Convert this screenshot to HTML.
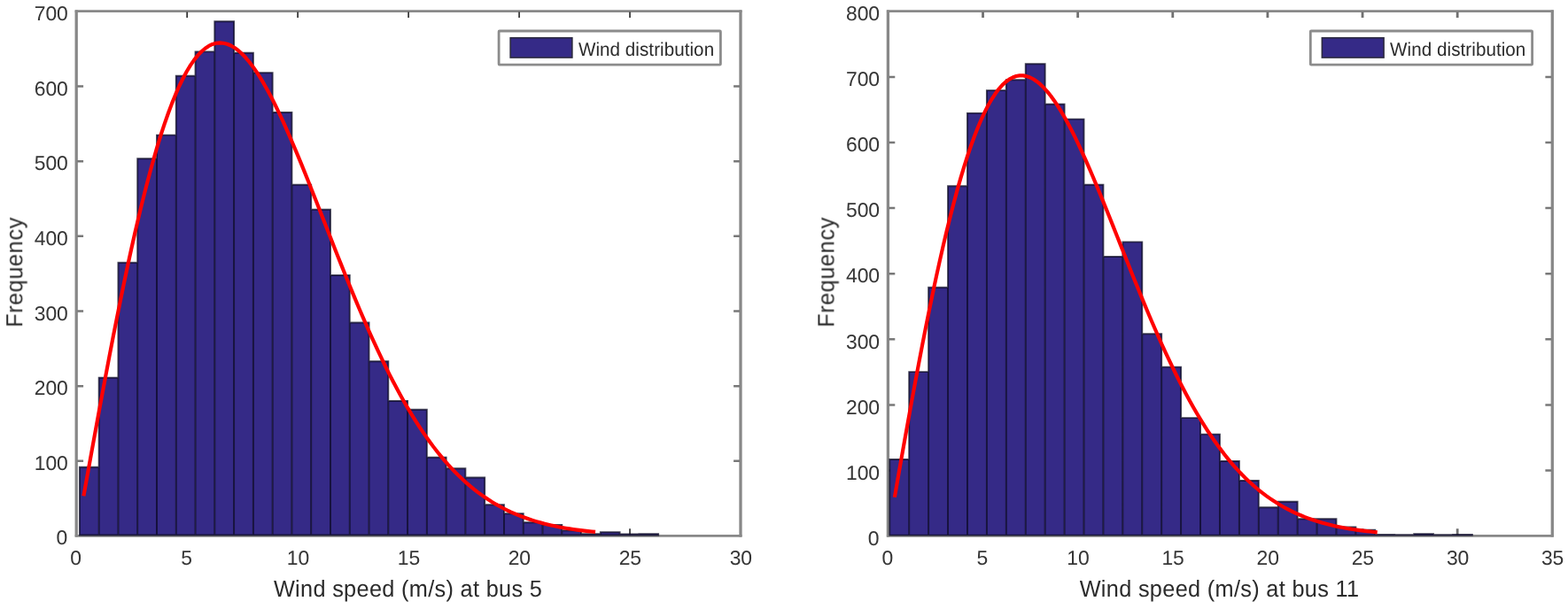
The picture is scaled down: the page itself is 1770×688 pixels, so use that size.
<!DOCTYPE html>
<html lang="en">
<head>
<meta charset="utf-8">
<title>Wind speed distribution</title>
<style>
html,body{margin:0;padding:0;background:#ffffff;}
body{width:1770px;height:688px;overflow:hidden;}
svg text{font-family:"Liberation Sans",Arial,Helvetica,sans-serif;fill:#2b2b2b;text-rendering:geometricPrecision;}
.t{font-size:22.9px;letter-spacing:-0.15px;fill:#363636;}
.g{font-size:20.6px;letter-spacing:0.06px;}
.l{font-size:25.3px;letter-spacing:0.32px;}
.l.yl{letter-spacing:0.58px;}
</style>
</head>
<body>
<svg width="1770" height="688" viewBox="0 0 1770 688" style="display:block">
<defs><filter id="soft" x="0" y="0" width="1770" height="688" filterUnits="userSpaceOnUse" color-interpolation-filters="sRGB"><feGaussianBlur stdDeviation="0.45"/></filter></defs>
<rect x="0" y="0" width="1770" height="688" fill="#ffffff"/>
<g filter="url(#soft)">
<g><path d="M84.7 12.6H837.5M84.7 605.3H837.5" fill="none" stroke="#888888" stroke-width="2.8"/>
<path d="M86.2 11.4V606.5M836 11.4V606.5" fill="none" stroke="#888888" stroke-width="3.3"/>
<path d="M211.17 604.3V597.2M211.17 13.6V20" stroke="#262626" stroke-width="1.6" fill="none"/>
<path d="M336.13 604.3V597.2M336.13 13.6V20" stroke="#262626" stroke-width="1.6" fill="none"/>
<path d="M461.1 604.3V597.2M461.1 13.6V20" stroke="#262626" stroke-width="1.6" fill="none"/>
<path d="M586.07 604.3V597.2M586.07 13.6V20" stroke="#262626" stroke-width="1.6" fill="none"/>
<path d="M711.03 604.3V597.2M711.03 13.6V20" stroke="#262626" stroke-width="1.6" fill="none"/>
<path d="M87.2 520.83H94.1M835 520.83H828.1" stroke="#787878" stroke-width="2.5" fill="none"/>
<path d="M87.2 436.16H94.1M835 436.16H828.1" stroke="#787878" stroke-width="2.5" fill="none"/>
<path d="M87.2 351.49H94.1M835 351.49H828.1" stroke="#787878" stroke-width="2.5" fill="none"/>
<path d="M87.2 266.81H94.1M835 266.81H828.1" stroke="#787878" stroke-width="2.5" fill="none"/>
<path d="M87.2 182.14H94.1M835 182.14H828.1" stroke="#787878" stroke-width="2.5" fill="none"/>
<path d="M87.2 97.47H94.1M835 97.47H828.1" stroke="#787878" stroke-width="2.5" fill="none"/>
<rect x="89.9" y="527.8" width="21.77" height="76.75" fill="#352a87"/>
<rect x="111.68" y="426.7" width="21.77" height="177.85" fill="#352a87"/>
<rect x="133.45" y="296.7" width="21.77" height="307.85" fill="#352a87"/>
<rect x="155.22" y="179.2" width="21.77" height="425.35" fill="#352a87"/>
<rect x="177" y="152.6" width="21.77" height="451.95" fill="#352a87"/>
<rect x="198.78" y="85.8" width="21.77" height="518.75" fill="#352a87"/>
<rect x="220.55" y="58.4" width="21.77" height="546.15" fill="#352a87"/>
<rect x="242.32" y="24.2" width="21.77" height="580.35" fill="#352a87"/>
<rect x="264.1" y="59.8" width="21.77" height="544.75" fill="#352a87"/>
<rect x="285.88" y="82.2" width="21.77" height="522.35" fill="#352a87"/>
<rect x="307.65" y="127" width="21.77" height="477.55" fill="#352a87"/>
<rect x="329.42" y="208.8" width="21.77" height="395.75" fill="#352a87"/>
<rect x="351.2" y="236.8" width="21.77" height="367.75" fill="#352a87"/>
<rect x="372.98" y="311" width="21.77" height="293.55" fill="#352a87"/>
<rect x="394.75" y="364.5" width="21.77" height="240.05" fill="#352a87"/>
<rect x="416.52" y="408.2" width="21.77" height="196.35" fill="#352a87"/>
<rect x="438.3" y="453" width="21.77" height="151.55" fill="#352a87"/>
<rect x="460.07" y="462.8" width="21.77" height="141.75" fill="#352a87"/>
<rect x="481.85" y="516.7" width="21.77" height="87.85" fill="#352a87"/>
<rect x="503.62" y="529.3" width="21.77" height="75.25" fill="#352a87"/>
<rect x="525.4" y="539.5" width="21.77" height="65.05" fill="#352a87"/>
<rect x="547.17" y="570.3" width="21.77" height="34.25" fill="#352a87"/>
<rect x="568.95" y="580.2" width="21.77" height="24.35" fill="#352a87"/>
<rect x="590.73" y="590.2" width="21.77" height="14.35" fill="#352a87"/>
<rect x="612.5" y="592.9" width="21.77" height="11.65" fill="#352a87"/>
<rect x="634.27" y="599.3" width="21.77" height="5.25" fill="#352a87"/>
<rect x="656.05" y="603.2" width="21.77" height="1.35" fill="#352a87"/>
<rect x="677.82" y="601.2" width="21.77" height="3.35" fill="#352a87"/>
<rect x="699.6" y="603.4" width="21.77" height="1.15" fill="#352a87"/>
<rect x="721.37" y="603.2" width="21.77" height="1.35" fill="#352a87"/>
<path d="M89.9 604.55V527.8H111.68V426.7H133.45V296.7H155.22V179.2H177V152.6H198.78V85.8H220.55V58.4H242.32V24.2H264.1V59.8H285.88V82.2H307.65V127H329.42V208.8H351.2V236.8H372.98V311H394.75V364.5H416.52V408.2H438.3V453H460.07V462.8H481.85V516.7H503.62V529.3H525.4V539.5H547.17V570.3H568.95V580.2H590.73V590.2H612.5V592.9H634.27V599.3H656.05V603.2H677.82V601.2H699.6V603.4H721.37V603.2H743.15V604.55ZM111.68 604.55V527.8M133.45 604.55V426.7M155.22 604.55V296.7M177 604.55V179.2M198.78 604.55V152.6M220.55 604.55V85.8M242.32 604.55V58.4M264.1 604.55V59.8M285.88 604.55V82.2M307.65 604.55V127M329.42 604.55V208.8M351.2 604.55V236.8M372.98 604.55V311M394.75 604.55V364.5M416.52 604.55V408.2M438.3 604.55V453M460.07 604.55V462.8M481.85 604.55V516.7M503.62 604.55V529.3M525.4 604.55V539.5M547.17 604.55V570.3M568.95 604.55V580.2M590.73 604.55V590.2M612.5 604.55V592.9M634.27 604.55V599.3M656.05 604.55V603.2M677.82 604.55V603.2M699.6 604.55V603.4M721.37 604.55V603.4" fill="none" stroke="#0a0820" stroke-opacity="0.74" stroke-width="1.9" stroke-linejoin="miter"/>
<polyline points="94.4,560.32 98.55,537.32 102.71,514.37 106.86,491.54 111.02,468.87 115.18,446.43 119.33,424.26 123.49,402.42 127.64,380.94 131.8,359.87 135.96,339.25 140.11,319.13 144.27,299.53 148.42,280.5 152.58,262.07 156.73,244.27 160.89,227.13 165.05,210.68 169.2,194.94 173.36,179.94 177.51,165.69 181.67,152.23 185.82,139.55 189.98,127.69 194.14,116.64 198.29,106.41 202.45,97.02 206.6,88.47 210.76,80.76 214.91,73.89 219.07,67.85 223.23,62.65 227.38,58.27 231.54,54.71 235.69,51.95 239.85,49.99 244,48.8 248.16,48.38 252.32,48.7 256.47,49.74 260.63,51.49 264.78,53.92 268.94,57.01 273.09,60.73 277.25,65.06 281.41,69.97 285.56,75.44 289.72,81.43 293.87,87.92 298.03,94.89 302.18,102.29 306.34,110.1 310.5,118.29 314.65,126.84 318.81,135.71 322.96,144.88 327.12,154.31 331.27,163.98 335.43,173.85 339.59,183.91 343.74,194.13 347.9,204.47 352.05,214.91 356.21,225.43 360.36,236.01 364.52,246.62 368.68,257.23 372.83,267.84 376.99,278.41 381.14,288.92 385.3,299.37 389.45,309.73 393.61,319.99 397.77,330.13 401.92,340.13 406.08,349.99 410.23,359.69 414.39,369.21 418.54,378.56 422.7,387.72 426.86,396.69 431.01,405.45 435.17,414 439.32,422.33 443.48,430.45 447.63,438.34 451.79,446 455.95,453.43 460.1,460.63 464.26,467.61 468.41,474.35 472.57,480.86 476.72,487.14 480.88,493.19 485.04,499.01 489.19,504.62 493.35,510 497.5,515.16 501.66,520.12 505.81,524.86 509.97,529.39 514.13,533.73 518.28,537.87 522.44,541.82 526.59,545.59 530.75,549.17 534.9,552.58 539.06,555.82 543.22,558.9 547.37,561.82 551.53,564.58 555.68,567.2 559.84,569.68 563.99,572.02 568.15,574.23 572.31,576.32 576.46,578.29 580.62,580.14 584.77,581.88 588.93,583.52 593.08,585.06 597.24,586.5 601.4,587.86 605.55,589.12 609.71,590.31 613.86,591.42 618.02,592.46 622.18,593.43 626.33,594.33 630.49,595.18 634.64,595.96 638.8,596.69 642.95,597.37 647.11,598 651.27,598.59 655.42,599.13 659.58,599.63 663.73,600.1 667.89,600.53 672.04,600.93" fill="none" stroke="#ff0000" stroke-width="4.15" stroke-linejoin="round"/>
<text x="85.5" y="637.9" text-anchor="middle" class="t">0</text>
<text x="210.47" y="637.9" text-anchor="middle" class="t">5</text>
<text x="336.43" y="637.9" text-anchor="middle" class="t">10</text>
<text x="461.4" y="637.9" text-anchor="middle" class="t">15</text>
<text x="586.37" y="637.9" text-anchor="middle" class="t">20</text>
<text x="711.33" y="637.9" text-anchor="middle" class="t">25</text>
<text x="836.3" y="637.9" text-anchor="middle" class="t">30</text>
<text x="76.1" y="615.3" text-anchor="end" class="t">0</text>
<text x="76.6" y="531.03" text-anchor="end" class="t">100</text>
<text x="76.6" y="446.36" text-anchor="end" class="t">200</text>
<text x="76.6" y="361.69" text-anchor="end" class="t">300</text>
<text x="76.6" y="277.01" text-anchor="end" class="t">400</text>
<text x="76.6" y="192.34" text-anchor="end" class="t">500</text>
<text x="76.6" y="107.67" text-anchor="end" class="t">600</text>
<text x="76.6" y="23" text-anchor="end" class="t">700</text>
<text transform="translate(460.5 674.5) scale(1 1.04)" text-anchor="middle" class="l">Wind speed (m/s) at bus 5</text>
<text transform="translate(25.1 307.5) rotate(-90) scale(1 1.04)" text-anchor="middle" class="l yl">Frequency</text>
<rect x="563.1" y="35" width="250.3" height="38.1" rx="0.8" fill="#ffffff" stroke="#8c8c8c" stroke-width="2.8"/>
<rect x="576.15" y="42.75" width="69.7" height="22.3" fill="#352a87" stroke="#2c2a40" stroke-width="1.6"/>
<text transform="translate(652.9 62.8) scale(1 1.04)" class="g">Wind distribution</text></g>
<g><path d="M1000.9 12.6H1753.8M1000.9 605.4H1753.8" fill="none" stroke="#888888" stroke-width="2.8"/>
<path d="M1002.4 11.4V606.6M1752.3 11.4V606.6" fill="none" stroke="#888888" stroke-width="3.3"/>
<path d="M1109.53 604.4V597.3M1109.53 13.6V20" stroke="#707070" stroke-width="2.8" fill="none"/>
<path d="M1216.66 604.4V597.3M1216.66 13.6V20" stroke="#707070" stroke-width="2.8" fill="none"/>
<path d="M1323.79 604.4V597.3M1323.79 13.6V20" stroke="#707070" stroke-width="2.8" fill="none"/>
<path d="M1430.91 604.4V597.3M1430.91 13.6V20" stroke="#707070" stroke-width="2.8" fill="none"/>
<path d="M1538.04 604.4V597.3M1538.04 13.6V20" stroke="#707070" stroke-width="2.8" fill="none"/>
<path d="M1645.17 604.4V597.3M1645.17 13.6V20" stroke="#707070" stroke-width="2.8" fill="none"/>
<path d="M1003.4 531.5H1010.3M1751.3 531.5H1744.4" stroke="#787878" stroke-width="2.5" fill="none"/>
<path d="M1003.4 457.4H1010.3M1751.3 457.4H1744.4" stroke="#787878" stroke-width="2.5" fill="none"/>
<path d="M1003.4 383.3H1010.3M1751.3 383.3H1744.4" stroke="#787878" stroke-width="2.5" fill="none"/>
<path d="M1003.4 309.2H1010.3M1751.3 309.2H1744.4" stroke="#787878" stroke-width="2.5" fill="none"/>
<path d="M1003.4 235.1H1010.3M1751.3 235.1H1744.4" stroke="#787878" stroke-width="2.5" fill="none"/>
<path d="M1003.4 161H1010.3M1751.3 161H1744.4" stroke="#787878" stroke-width="2.5" fill="none"/>
<path d="M1003.4 86.9H1010.3M1751.3 86.9H1744.4" stroke="#787878" stroke-width="2.5" fill="none"/>
<rect x="1004.3" y="519" width="21.92" height="85.65" fill="#352a87"/>
<rect x="1026.22" y="420.1" width="21.92" height="184.55" fill="#352a87"/>
<rect x="1048.14" y="324.8" width="21.92" height="279.85" fill="#352a87"/>
<rect x="1070.06" y="210.3" width="21.92" height="394.35" fill="#352a87"/>
<rect x="1091.98" y="127.9" width="21.92" height="476.75" fill="#352a87"/>
<rect x="1113.9" y="102.1" width="21.92" height="502.55" fill="#352a87"/>
<rect x="1135.82" y="90.3" width="21.92" height="514.35" fill="#352a87"/>
<rect x="1157.74" y="72.2" width="21.92" height="532.45" fill="#352a87"/>
<rect x="1179.66" y="117.7" width="21.92" height="486.95" fill="#352a87"/>
<rect x="1201.58" y="134.6" width="21.92" height="470.05" fill="#352a87"/>
<rect x="1223.5" y="208.7" width="21.92" height="395.95" fill="#352a87"/>
<rect x="1245.42" y="290" width="21.92" height="314.65" fill="#352a87"/>
<rect x="1267.34" y="273.4" width="21.92" height="331.25" fill="#352a87"/>
<rect x="1289.26" y="377.3" width="21.92" height="227.35" fill="#352a87"/>
<rect x="1311.18" y="414.6" width="21.92" height="190.05" fill="#352a87"/>
<rect x="1333.1" y="472.1" width="21.92" height="132.55" fill="#352a87"/>
<rect x="1355.02" y="490.6" width="21.92" height="114.05" fill="#352a87"/>
<rect x="1376.94" y="521" width="21.92" height="83.65" fill="#352a87"/>
<rect x="1398.86" y="543" width="21.92" height="61.65" fill="#352a87"/>
<rect x="1420.78" y="573.3" width="21.92" height="31.35" fill="#352a87"/>
<rect x="1442.7" y="566.8" width="21.92" height="37.85" fill="#352a87"/>
<rect x="1464.62" y="586.3" width="21.92" height="18.35" fill="#352a87"/>
<rect x="1486.54" y="586.3" width="21.92" height="18.35" fill="#352a87"/>
<rect x="1508.46" y="595.5" width="21.92" height="9.15" fill="#352a87"/>
<rect x="1530.38" y="598.7" width="21.92" height="5.95" fill="#352a87"/>
<rect x="1552.3" y="604" width="21.92" height="0.65" fill="#352a87"/>
<rect x="1574.22" y="604.3" width="21.92" height="0.35" fill="#352a87"/>
<rect x="1596.14" y="603.1" width="21.92" height="1.55" fill="#352a87"/>
<rect x="1618.06" y="604.2" width="21.92" height="0.45" fill="#352a87"/>
<rect x="1639.98" y="603.9" width="21.92" height="0.75" fill="#352a87"/>
<path d="M1004.3 604.65V519H1026.22V420.1H1048.14V324.8H1070.06V210.3H1091.98V127.9H1113.9V102.1H1135.82V90.3H1157.74V72.2H1179.66V117.7H1201.58V134.6H1223.5V208.7H1245.42V290H1267.34V273.4H1289.26V377.3H1311.18V414.6H1333.1V472.1H1355.02V490.6H1376.94V521H1398.86V543H1420.78V573.3H1442.7V566.8H1464.62V586.3H1486.54V586.3H1508.46V595.5H1530.38V598.7H1552.3V604H1574.22V604.3H1596.14V603.1H1618.06V604.2H1639.98V603.9H1661.9V604.65ZM1026.22 604.65V519M1048.14 604.65V420.1M1070.06 604.65V324.8M1091.98 604.65V210.3M1113.9 604.65V127.9M1135.82 604.65V102.1M1157.74 604.65V90.3M1179.66 604.65V117.7M1201.58 604.65V134.6M1223.5 604.65V208.7M1245.42 604.65V290M1267.34 604.65V290M1289.26 604.65V377.3M1311.18 604.65V414.6M1333.1 604.65V472.1M1355.02 604.65V490.6M1376.94 604.65V521M1398.86 604.65V543M1420.78 604.65V573.3M1442.7 604.65V573.3M1464.62 604.65V586.3M1486.54 604.65V586.3M1508.46 604.65V595.5M1530.38 604.65V598.7M1552.3 604.65V604M1574.22 604.65V604.3M1596.14 604.65V604.3M1618.06 604.65V604.2M1639.98 604.65V604.2" fill="none" stroke="#0a0820" stroke-opacity="0.74" stroke-width="1.9" stroke-linejoin="miter"/>
<polyline points="1009.88,561.74 1013.8,539.22 1017.72,516.91 1021.64,494.83 1025.56,473.01 1029.48,451.5 1033.4,430.32 1037.32,409.52 1041.24,389.13 1045.16,369.19 1049.08,349.74 1053,330.8 1056.92,312.41 1060.84,294.59 1064.76,277.39 1068.68,260.82 1072.6,244.91 1076.52,229.68 1080.44,215.16 1084.36,201.36 1088.28,188.3 1092.2,176 1096.12,164.46 1100.04,153.7 1103.96,143.73 1107.88,134.55 1111.8,126.16 1115.72,118.57 1119.64,111.78 1123.56,105.78 1127.48,100.57 1131.4,96.14 1135.32,92.49 1139.24,89.6 1143.16,87.46 1147.08,86.06 1151,85.38 1154.92,85.41 1158.84,86.12 1162.76,87.5 1166.68,89.53 1170.6,92.18 1174.52,95.43 1178.44,99.26 1182.36,103.64 1186.28,108.55 1190.2,113.96 1194.12,119.84 1198.04,126.17 1201.96,132.92 1205.88,140.07 1209.8,147.57 1213.72,155.42 1217.64,163.58 1221.56,172.02 1225.48,180.71 1229.4,189.64 1233.32,198.76 1237.24,208.07 1241.16,217.53 1245.08,227.11 1249,236.8 1252.92,246.57 1256.84,256.39 1260.76,266.25 1264.68,276.13 1268.6,286 1272.52,295.85 1276.44,305.66 1280.36,315.4 1284.28,325.07 1288.2,334.65 1292.12,344.13 1296.04,353.48 1299.96,362.71 1303.88,371.79 1307.8,380.72 1311.72,389.48 1315.64,398.08 1319.56,406.49 1323.48,414.72 1327.4,422.76 1331.32,430.6 1335.24,438.23 1339.16,445.66 1343.08,452.89 1347,459.9 1350.92,466.7 1354.84,473.28 1358.76,479.65 1362.68,485.81 1366.6,491.75 1370.52,497.48 1374.44,503.01 1378.36,508.32 1382.28,513.43 1386.2,518.34 1390.12,523.05 1394.04,527.56 1397.96,531.88 1401.88,536.02 1405.8,539.97 1409.72,543.74 1413.64,547.34 1417.56,550.77 1421.48,554.04 1425.4,557.15 1429.32,560.1 1433.24,562.9 1437.16,565.56 1441.08,568.08 1445,570.47 1448.92,572.73 1452.84,574.86 1456.76,576.88 1460.68,578.78 1464.6,580.58 1468.52,582.27 1472.44,583.86 1476.36,585.35 1480.28,586.76 1484.2,588.08 1488.12,589.32 1492.04,590.48 1495.96,591.56 1499.88,592.58 1503.8,593.53 1507.72,594.42 1511.64,595.25 1515.56,596.02 1519.48,596.74 1523.4,597.41 1527.32,598.04 1531.24,598.62 1535.16,599.16 1539.07,599.66 1542.99,600.12 1546.91,600.55 1550.83,600.95 1554.75,601.32" fill="none" stroke="#ff0000" stroke-width="4.15" stroke-linejoin="round"/>
<text x="1001.7" y="637.9" text-anchor="middle" class="t">0</text>
<text x="1108.83" y="637.9" text-anchor="middle" class="t">5</text>
<text x="1216.96" y="637.9" text-anchor="middle" class="t">10</text>
<text x="1324.09" y="637.9" text-anchor="middle" class="t">15</text>
<text x="1431.21" y="637.9" text-anchor="middle" class="t">20</text>
<text x="1538.34" y="637.9" text-anchor="middle" class="t">25</text>
<text x="1645.47" y="637.9" text-anchor="middle" class="t">30</text>
<text x="1752.6" y="637.9" text-anchor="middle" class="t">35</text>
<text x="992.3" y="616.2" text-anchor="end" class="t">0</text>
<text x="992.8" y="541.7" text-anchor="end" class="t">100</text>
<text x="992.8" y="467.6" text-anchor="end" class="t">200</text>
<text x="992.8" y="393.5" text-anchor="end" class="t">300</text>
<text x="992.8" y="319.4" text-anchor="end" class="t">400</text>
<text x="992.8" y="245.3" text-anchor="end" class="t">500</text>
<text x="992.8" y="171.2" text-anchor="end" class="t">600</text>
<text x="992.8" y="97.1" text-anchor="end" class="t">700</text>
<text x="992.8" y="23" text-anchor="end" class="t">800</text>
<text transform="translate(1376.5 674.5) scale(1 1.04)" text-anchor="middle" class="l">Wind speed (m/s) at bus 11</text>
<text transform="translate(941.3 307.5) rotate(-90) scale(1 1.04)" text-anchor="middle" class="l yl">Frequency</text>
<rect x="1479.3" y="35" width="250.3" height="38.1" rx="0.8" fill="#ffffff" stroke="#8c8c8c" stroke-width="2.8"/>
<rect x="1492.35" y="42.75" width="69.7" height="22.3" fill="#352a87" stroke="#2c2a40" stroke-width="1.6"/>
<text transform="translate(1569.1 62.8) scale(1 1.04)" class="g">Wind distribution</text></g>
</g>
</svg>
</body>
</html>
